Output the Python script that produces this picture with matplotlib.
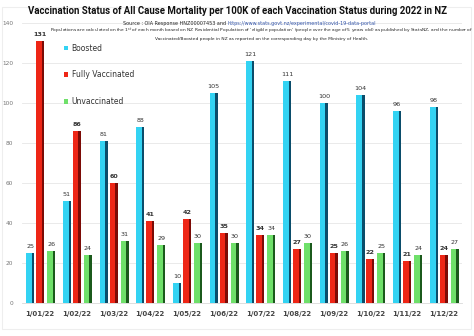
import numpy as np
import matplotlib
matplotlib.use("Agg")
from matplotlib import pyplot as plt
from matplotlib.patches import Rectangle

months = ["1/01/22", "1/02/22", "1/03/22", "1/04/22", "1/05/22", "1/06/22",
          "1/07/22", "1/08/22", "1/09/22", "1/10/22", "1/11/22", "1/12/22"]
boosted = [25, 51, 81, 88, 10, 105, 121, 111, 100, 104, 96, 98]
fully_vaccinated = [131, 86, 60, 41, 42, 35, 34, 27, 25, 22, 21, 24]
unvaccinated = [26, 24, 31, 29, 30, 30, 34, 30, 26, 25, 24, 27]

series = [
    ("Boosted", boosted, "#33d3f3", "#0b4d6b", False),
    ("Fully Vaccinated", fully_vaccinated, "#ee2616", "#7c0b06", True),
    ("Unvaccinated", unvaccinated, "#6fe06a", "#1b5a1c", False),
]


def main():
    fig = plt.figure(figsize=(4.74, 3.36), dpi=100)
    ax = fig.add_axes([0.046, 0.098, 0.929, 0.834])

    x = np.arange(len(months))
    width = 0.22
    offsets = [-0.27, 0.0, 0.3]

    for (name, vals, light, dark, bold), off in zip(series, offsets):
        # light front face plus a darker right-hand side for a bevelled look
        ax.bar(x + off - width * 0.15, vals, width * 0.7, color=light,
               label=name, zorder=3)
        ax.bar(x + off + width * 0.35, vals, width * 0.3, color=dark, zorder=3)
        for xi, v in zip(x, vals):
            ax.text(xi + off, v + 2, str(v), ha="center", va="bottom",
                    fontsize=4.6, color="#333333",
                    fontweight="bold" if bold else "normal", zorder=4)

    ax.set_xlim(-0.5, 11.5)
    ax.set_ylim(0, 140)
    ax.set_yticks(range(0, 141, 20))
    ax.set_xticks(x)
    ax.set_xticklabels(months, fontsize=5, color="#444444", fontweight="bold")
    ax.tick_params(axis="y", labelsize=4.2, colors="#777777", length=0, pad=6)
    ax.tick_params(axis="x", length=0, pad=6)
    ax.grid(axis="y", color="#e6e6e6", linewidth=0.6, zorder=0)
    for side in ["top", "right", "left"]:
        ax.spines[side].set_visible(False)
    ax.spines["bottom"].set_color("#d9d9d9")
    ax.spines["bottom"].set_linewidth(0.6)

    leg = ax.legend(loc="upper left", bbox_to_anchor=(0.08, 0.95), frameon=False,
                    fontsize=5.5, labelspacing=2.3, handlelength=0.6,
                    handleheight=0.6, handletextpad=0.4)
    for t in leg.get_texts():
        t.set_color("#333333")

    fig.text(0.5, 0.968, "Vaccination Status of All Cause Mortality per 100K of each "
             "Vaccination Status during 2022 in NZ", ha="center", va="center",
             fontsize=6.9, fontweight="bold", color="#111111",
             family=["Roboto", "DejaVu Sans"])
    fig.text(0.48, 0.931, "Source : OIA Response HNZ00007453 and ", ha="right",
             va="center", fontsize=3.5, color="#222222")
    fig.text(0.48, 0.931, "https://www.stats.govt.nz/experimental/covid-19-data-portal",
             ha="left", va="center", fontsize=3.5, color="#3355aa")
    fig.text(0.552, 0.899,
             "Populations are calculated on the 1$^{st}$ of each month based on NZ Residential "
             "Population of 'eligible population' (people over the age of 5 years old) as "
             "published by StatsNZ, and the number of\nVaccinated/Boosted people in NZ as "
             "reported on the corresponding day by the Ministry of Health.",
             ha="center", va="center", fontsize=3.15, color="#222222",
             linespacing=1.3)

    fig.add_artist(Rectangle((0.004, 0.02), 0.99, 0.96, transform=fig.transFigure,
                             fill=False, edgecolor="#eeeeee", linewidth=0.8))

    fig.savefig("out.png", dpi=100)


if __name__ == '__main__':
    main()
